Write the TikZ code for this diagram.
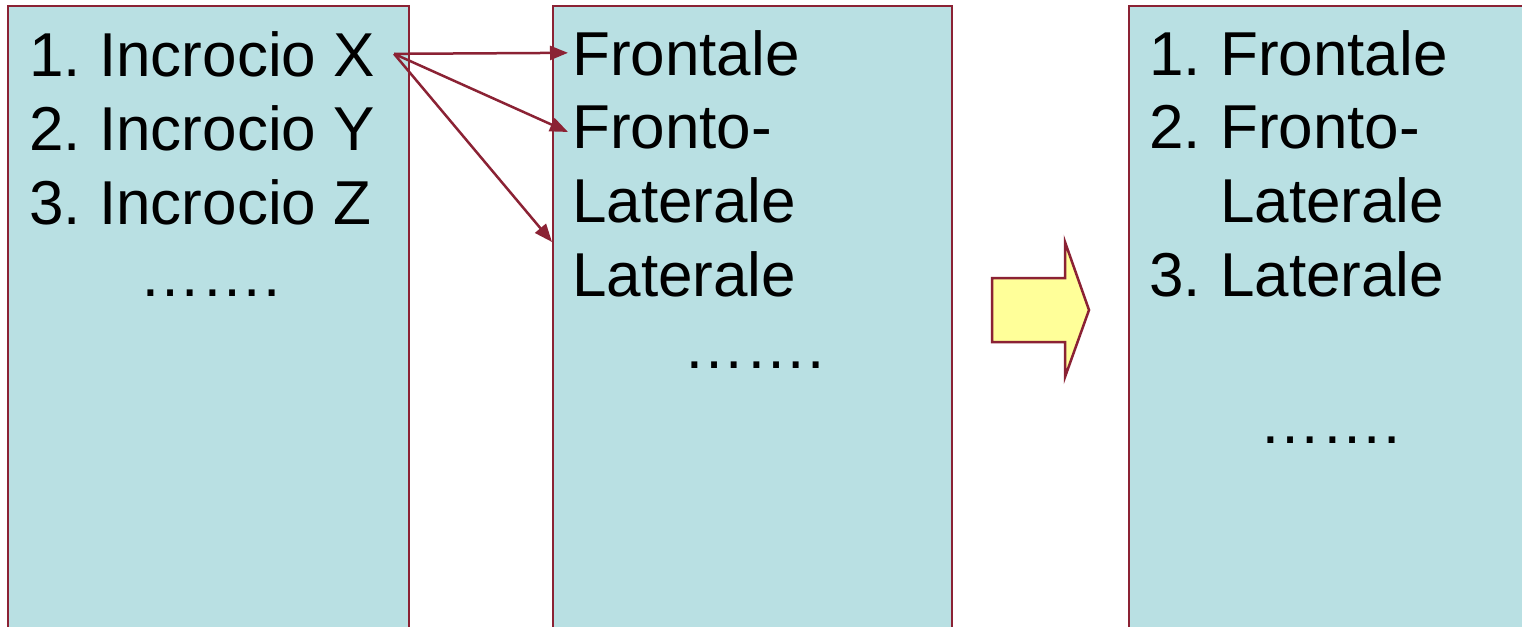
\documentclass[tikz,border=0pt]{standalone}
\usepackage{fontspec}
\setmainfont{Liberation Sans}
\usetikzlibrary{arrows.meta}

\definecolor{panelfill}{RGB}{185,224,227}
\definecolor{panelline}{RGB}{139,34,52}
\definecolor{arrowfill}{RGB}{255,255,153}

\tikzset{
  panel/.style={draw=panelline, line width=2.5pt, fill=panelfill},
  txt/.style={anchor=base west, inner sep=0pt, font=\fontsize{62}{74}\selectfont},
  link/.style={draw=panelline, line width=2.5pt, -{Triangle[length=18pt,width=14pt]}},
}

\begin{document}
\begin{tikzpicture}[x=1pt,y=-1pt]
\clip (0,0) rectangle (1522,626);
\fill[white] (0,0) rectangle (1522,626);

% panels, open at the bottom
\draw[panel] (8,6) rectangle (409,680);
\draw[panel] (553,6) rectangle (952,680);
\draw[panel] (1129,6) rectangle (1560,680);

% left list
\node[txt] (ln1) at (29,76) {1.};
\node[txt] (lx1) at (99,76) {Incrocio X};
\node[txt] (ln2) at (29,150) {2.};
\node[txt] (lx2) at (99,150) {Incrocio Y};
\node[txt] (ln3) at (29,224) {3.};
\node[txt] (lx3) at (99,224) {Incrocio Z};
\node[txt] (ldots) at (139,296) {…….};

% middle list
\node[txt] (m1) at (572,75) {Frontale};
\node[txt] (m2) at (572,148) {Fronto-};
\node[txt] (m3) at (572,222) {Laterale};
\node[txt] (m4) at (572,296) {Laterale};
\node[txt] (mdots) at (683,368) {…….};

% right list
\node[txt] (rn1) at (1149,75) {1.};
\node[txt] (r1) at (1220,75) {Frontale};
\node[txt] (rn2) at (1149,148) {2.};
\node[txt] (r2) at (1220,148) {Fronto-};
\node[txt] (r3) at (1220,222) {Laterale};
\node[txt] (rn3) at (1149,296) {3.};
\node[txt] (r4) at (1220,296) {Laterale};
\node[txt] (rdots) at (1259,443) {…….};

% links from X
\coordinate (src) at ([xshift=19pt]lx1.east);
\coordinate (gap) at (552,242);
\draw[link] (src) -- ([xshift=-4pt]m1.west);
\draw[link] (src) -- ([xshift=-4pt,yshift=-5pt]m2.west);
\draw[link] (src) -- (gap);

% block arrow
\draw[panelline, line width=2.5pt, fill=arrowfill, line join=miter]
  (992,278) -- (1065,278) -- (1065,242) -- (1089,310) -- (1065,377)
  -- (1065,342) -- (992,342) -- cycle;
\end{tikzpicture}
\end{document}
